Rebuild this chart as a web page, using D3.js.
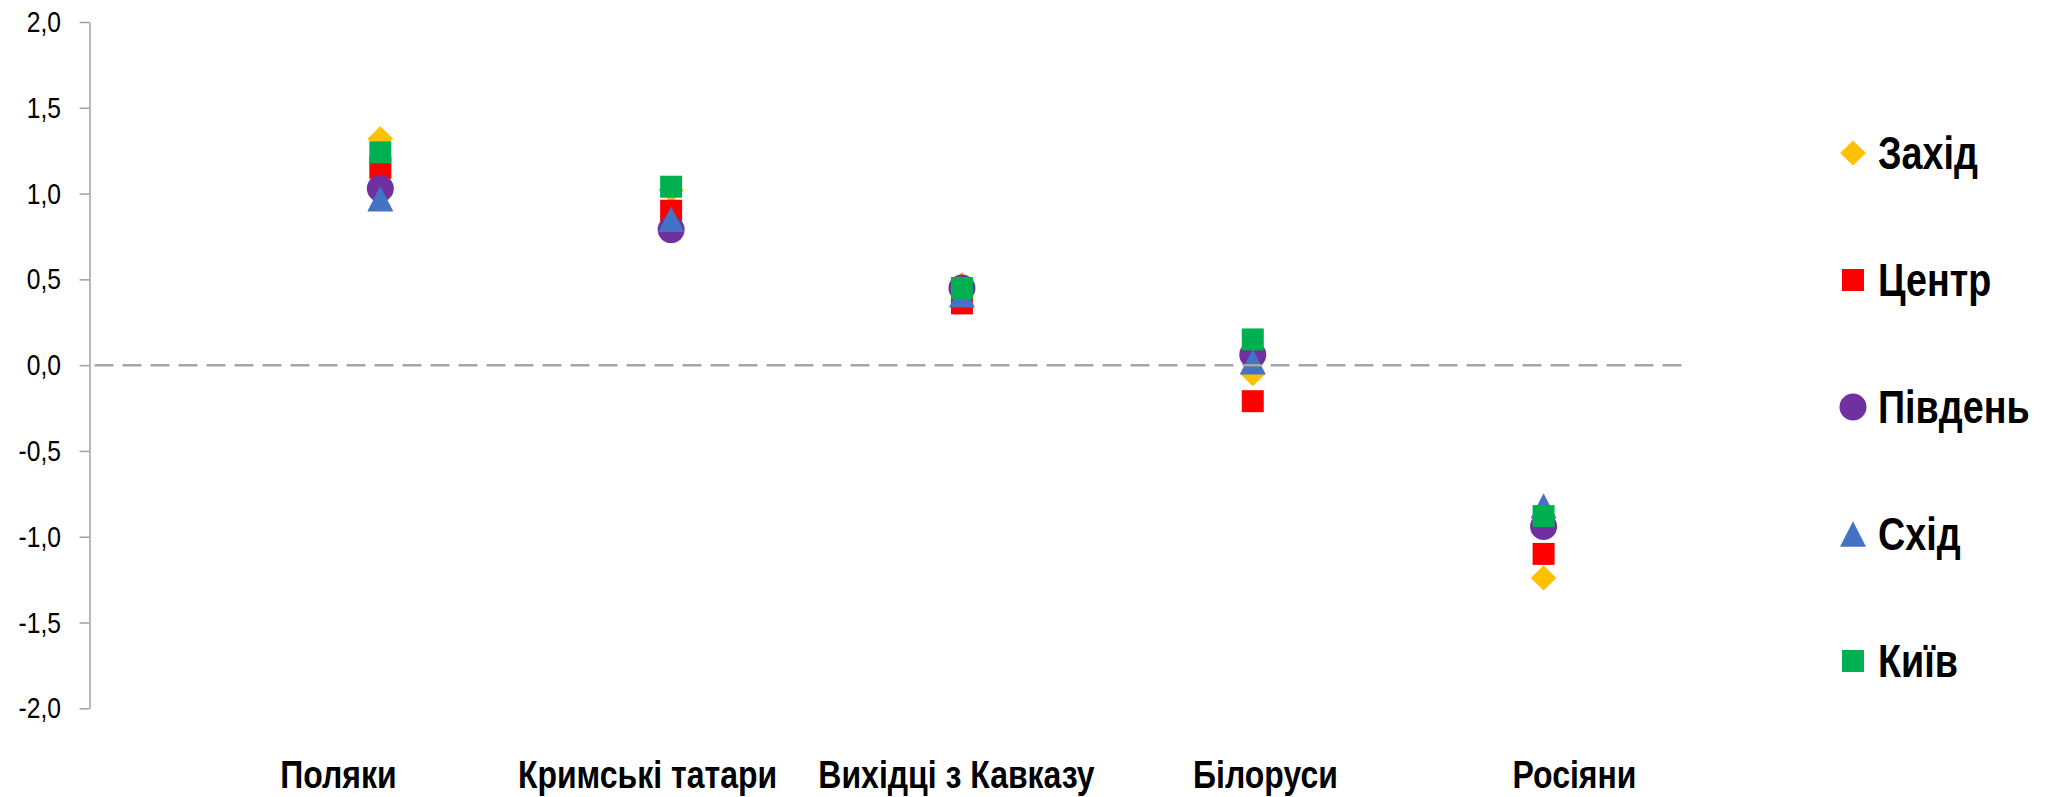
<!DOCTYPE html>
<html>
<head>
<meta charset="utf-8">
<script src="https://cdn.jsdelivr.net/npm/d3@7"></script>
<style>
  html, body { margin: 0; padding: 0; background: #fff; }
  svg { display: block; }
</style>
</head>
<body>
<script>
// ---- data ----
const categories = ["Поляки", "Кримські татари", "Вихідці з Кавказу", "Білоруси", "Росіяни"];
const seriesNames = ["Захід", "Центр", "Південь", "Схід", "Київ"];
const zakhid = [1.32, 1.02, 0.47, -0.05, -1.24];
const tsentr = [1.15, 0.90, 0.36, -0.21, -1.10];
const pivden = [1.03, 0.79, 0.45, 0.06, -0.94];
const skhid  = [0.97, 0.85, 0.41, 0.02, -0.82];
const kyiv   = [1.24, 1.04, 0.45, 0.15, -0.88];
const yTicks = [-2, -1.5, -1, -0.5, 0, 0.5, 1, 1.5, 2];

const seriesValues = [zakhid, tsentr, pivden, skhid, kyiv];
const colors = ["#FFC000", "#FF0000", "#7030A0", "#4472C4", "#00B050"];
const shapes = ["diamond", "square", "circle", "triangle", "square"];

const W = 2051, H = 797;
const font = "'Liberation Sans', Arial, sans-serif";
const narrowScale = 0.82;

const svg = d3.select("body").append("svg")
  .attr("width", W).attr("height", H)
  .style("background", "#fff");

const x = d3.scaleLinear().domain([0, 5.5]).range([89.5, 1689]);
const xl = d3.scalePoint().domain(categories).range([338, 1574]);
const y = d3.scaleLinear().domain([-2, 2]).range([708.3, 22]);

function shapePath(kind) {
  switch (kind) {
    case "diamond": return "M0,-12.5L12.8,0L0,12.5L-12.8,0Z";
    case "square": return "M-11,-11H11V11H-11Z";
    case "circle": return "M13.5,0A13.5,13.5 0 1,1 -13.5,0A13.5,13.5 0 1,1 13.5,0Z";
    case "triangle": return "M0,-12.7L13,12.7L-13,12.7Z";
  }
}

// ---- y axis ----
const yAxis = d3.axisLeft(y)
  .tickValues(yTicks)
  .tickSize(10)
  .tickSizeOuter(0)
  .tickPadding(18)
  .tickFormat(d => d3.format(".1f")(d).replace(".", ",").replace("−", "-"));

const gy = svg.append("g")
  .attr("transform", `translate(${x(0)},0)`)
  .call(yAxis);
gy.select(".domain").attr("stroke", "#A0A0A0").attr("stroke-width", 1.5);
gy.selectAll(".tick line").attr("stroke", "#A0A0A0").attr("stroke-width", 1.5);
gy.selectAll(".tick text")
  .attr("fill", "#000")
  .attr("x", 0)
  .attr("transform", `translate(-28.5,0) scale(${narrowScale},1)`)
  .style("font-family", font)
  .style("font-size", "30px");

// ---- category labels ----
const xAxis = d3.axisBottom(xl).tickSize(0).tickPadding(0);
const gx = svg.append("g")
  .attr("transform", "translate(0,760)")
  .call(xAxis);
gx.select(".domain").remove();
gx.selectAll(".tick text")
  .attr("fill", "#000")
  .attr("transform", `scale(${narrowScale},1)`)
  .style("font-family", font)
  .style("font-weight", "bold")
  .style("font-size", "39px");

// ---- markers ----
seriesValues.forEach((vals, si) => {
  svg.append("g")
    .selectAll("path")
    .data(vals)
    .join("path")
    .attr("d", shapePath(shapes[si]))
    .attr("fill", colors[si])
    .attr("transform", (d, i) => `translate(${x(i + 1)},${y(d)})`);
});

// ---- zero line (drawn over markers) ----
svg.append("line")
  .attr("x1", x(0)).attr("x2", x(5.5))
  .attr("y1", y(0)).attr("y2", y(0))
  .attr("stroke", "#A6A6A6")
  .attr("stroke-width", 2.5)
  .attr("stroke-dasharray", "19,9")
  .attr("stroke-dashoffset", 23);

// ---- legend ----
const legend = svg.append("g");
seriesNames.forEach((name, i) => {
  const cy = 153 + i * 127;
  legend.append("path")
    .attr("d", shapePath(shapes[i]))
    .attr("fill", colors[i])
    .attr("transform", `translate(1853,${cy})`);
  legend.append("text")
    .attr("x", 0)
    .attr("y", 0)
    .attr("transform", `translate(1878,${cy + 16}) scale(${narrowScale},1)`)
    .attr("fill", "#000")
    .style("font-family", font)
    .style("font-weight", "bold")
    .style("font-size", "46px")
    .text(name);
});
</script>
</body>
</html>
